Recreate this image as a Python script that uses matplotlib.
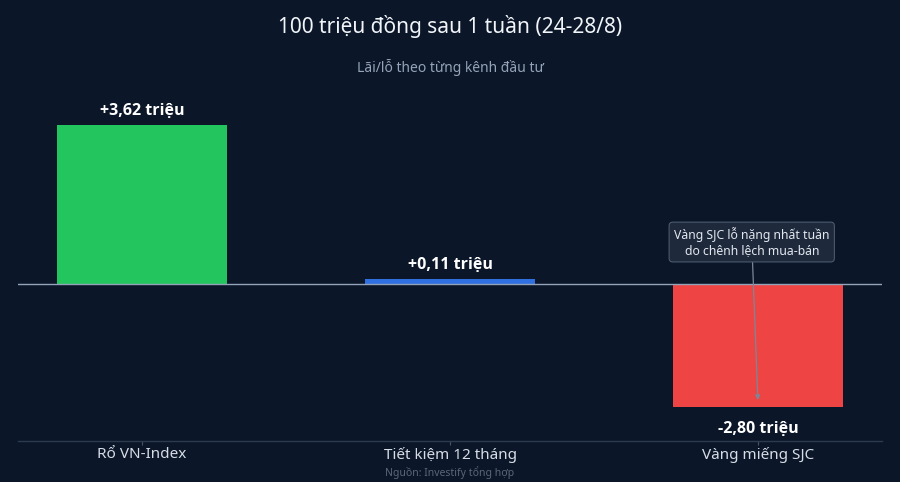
import matplotlib
matplotlib.use("Agg")
import matplotlib.pyplot as plt

plt.rcParams['font.family'] = ['Noto Sans', 'DejaVu Sans']

categories = ["Rổ VN-Index", "Tiết kiệm 12 tháng", "Vàng miếng SJC"]
values = [3.62, 0.11, -2.80]
value_labels = ["+3,62 triệu", "+0,11 triệu", "-2,80 triệu"]
colors = ["#22c55e", "#2f6fe0", "#ef4444"]
title = "100 triệu đồng sau 1 tuần (24-28/8)"
subtitle = "Lãi/lỗ theo từng kênh đầu tư"
source = "Nguồn: Investify tổng hợp"
note = "Vàng SJC lỗ nặng nhất tuần\ndo chênh lệch mua-bán"

BG = "#0b1628"
fig = plt.figure(figsize=(9, 4.82), dpi=100, facecolor=BG)
ax = fig.add_axes([18/900, 1-441/482, 864/900, (441-90)/482])
ax.set_facecolor(BG)

x = list(range(len(categories)))
ax.bar(x, values, width=0.552, color=colors, zorder=2)
ax.set_xlim(-0.403, 2.403)
ymin = -3.58
ppu = 159/3.62
ymax = ymin + (441-90)/ppu
ax.set_ylim(ymin, ymax)

ax.axhline(0, color="#94a3b8", lw=1.0, zorder=3)

bold_font = dict(family=['Open Sans', 'DejaVu Sans'], weight='bold', size=11.5)
for xi, v, lab in zip(x, values, value_labels):
    if v >= 0:
        ax.annotate(lab, (xi, v), xytext=(0, 4.5), textcoords="offset points",
                    ha="center", va="bottom", color="white", **bold_font)
    else:
        ax.annotate(lab, (xi, v), xytext=(0, -10.5), textcoords="offset points",
                    ha="center", va="top", color="white", **bold_font)

for s in ["top", "left", "right"]:
    ax.spines[s].set_visible(False)
ax.spines["bottom"].set_color("#2b3a4f")
ax.spines["bottom"].set_linewidth(1.0)
ax.set_yticks([])
ax.set_xticks(x)
ax.set_xticklabels(categories, fontsize=11, color="#d6dde6")
ax.tick_params(axis="x", length=3, width=0.8, color="#475569", pad=1)

ax.annotate(note, xy=(2, values[2] + 0.15), xytext=(1.98, 0.95),
            ha="center", va="center", fontsize=8.8, color="#e2e8f0",
            linespacing=1.2,
            bbox=dict(boxstyle="round,pad=0.4,rounding_size=0.3",
                      fc="#1e293b", ec="#4b5a6e", lw=0.8),
            arrowprops=dict(arrowstyle="-|>", color="#7b8798", lw=0.9,
                            mutation_scale=7, shrinkA=0, shrinkB=0),
            zorder=5)

fig.text(0.5, 1-26/482, title, ha="center", va="center", color="#f1f5f9",
         fontsize=15, fontweight="light")
fig.text(0.5, 1-67/482, subtitle, ha="center", va="center", color="#94a3b8",
         fontsize=10)
fig.text(0.5, 1-473/482, source, ha="center", va="center", color="#5b6779",
         fontsize=7.5)

fig.savefig("out.png", dpi=100, facecolor=BG)
